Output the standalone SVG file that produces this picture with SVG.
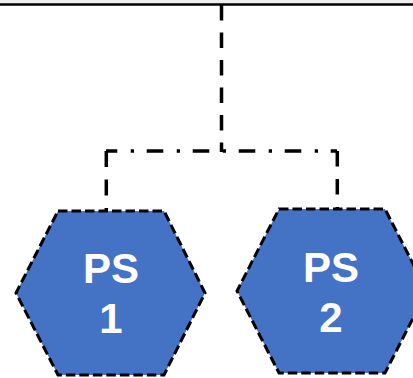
<svg xmlns="http://www.w3.org/2000/svg" width="413" height="378" viewBox="0 0 413 378">
  <style>
    .hex { fill: #4472C4; stroke: #000; stroke-width: 3; stroke-dasharray: 9.5 4; }
    .lbl { fill: #fff; font-family: "Liberation Sans", Arial, sans-serif; font-weight: bold; font-size: 42px; text-anchor: middle; }
    .dash { fill: none; stroke: #000; stroke-width: 3.5; stroke-dasharray: 16 12; }
    .dashdot { fill: none; stroke: #000; stroke-width: 3.5; stroke-dasharray: 16.6 13.4 3.3 12.7; }
  </style>
  <rect x="0" y="0" width="413" height="3" fill="#eeeeee"/>
  <line x1="0" y1="4.5" x2="413" y2="4.5" stroke="#000" stroke-width="2.5"/>
  <g id="connectors">
    <line class="dash" x1="221.5" y1="5" x2="221.5" y2="152" style="stroke-dasharray:15.5 12"/>
    <line class="dashdot" x1="106" y1="151" x2="337" y2="151" stroke-dashoffset="5.3"/>
    <line class="dash" x1="106.3" y1="151" x2="106.3" y2="210" style="stroke-dasharray:16 12.5"/>
    <line class="dash" x1="337.3" y1="151" x2="337.3" y2="209" style="stroke-dasharray:15.5 12.5"/>
  </g>
  <g id="ps1">
    <polygon class="hex" points="58,211 164,211 205,293 164,375 58,375 16,293"/>
    <text class="lbl" x="111" y="283">PS</text>
    <text class="lbl" x="111" y="333">1</text>
  </g>
  <g id="ps2">
    <polygon class="hex" points="279,209 385,209 427,291 385,373 279,373 237,291"/>
    <text class="lbl" x="331" y="282">PS</text>
    <text class="lbl" x="331" y="332">2</text>
  </g>
</svg>
